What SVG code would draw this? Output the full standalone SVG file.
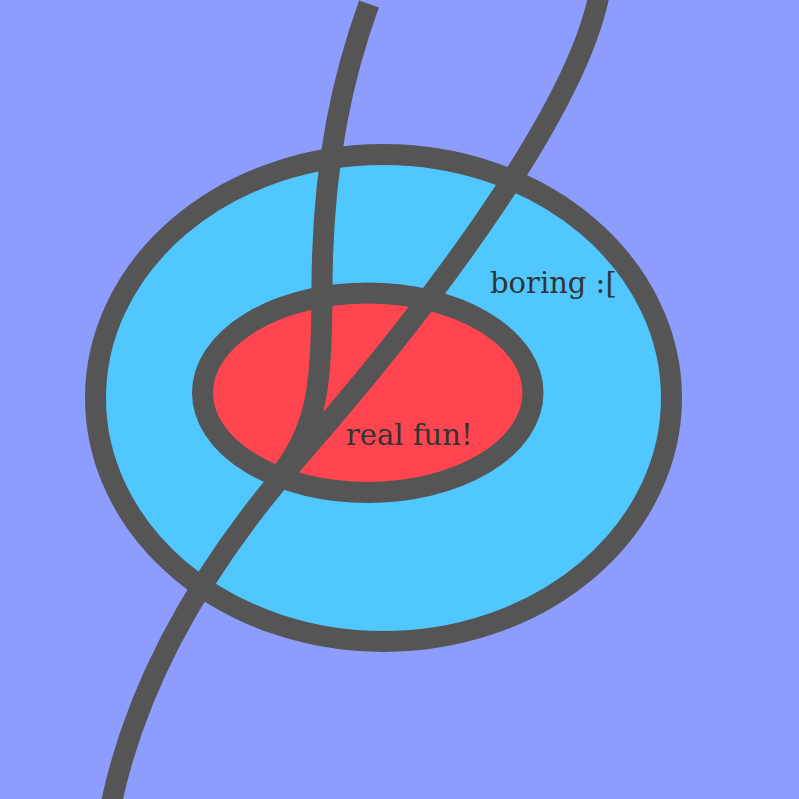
<svg xmlns="http://www.w3.org/2000/svg" width="799" height="799" viewBox="0 0 799 799">
<style>
.shape{stroke:#555555;stroke-width:21}
.line{fill:none;stroke:#555555;stroke-width:21}
.lbl{font-family:"DejaVu Serif","Liberation Serif",serif;font-size:29px;fill:#333333}
</style>
<rect width="799" height="799" fill="#8E9DFD"/>
<g id="boring">
<ellipse class="shape" cx="383.5" cy="398" rx="288" ry="243.5" fill="#50C8FF"/>
<text class="lbl" x="490" y="293">boring :[</text>
</g>
<g id="realfun">
<ellipse class="shape" cx="367.75" cy="392.75" rx="165.25" ry="99.75" fill="#FF4650"/>
<text class="lbl" x="346" y="445">real fun!</text>
</g>
<g id="connectors">
<path class="line" d="M 369 4 C 345 70, 322 160, 322 290 C 322 380, 318 425, 284 470"/>
<path class="line" d="M 599 -5 C 574 120, 414 325, 300 455 C 195 575, 135 690, 111 805"/>
</g>
</svg>
